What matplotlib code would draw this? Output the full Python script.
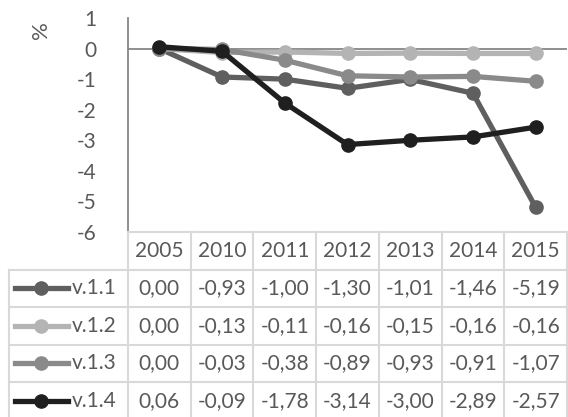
import matplotlib
matplotlib.use("Agg")
import matplotlib.pyplot as plt
from matplotlib.lines import Line2D

years = ["2005", "2010", "2011", "2012", "2013", "2014", "2015"]
names = ["v.1.1", "v.1.2", "v.1.3", "v.1.4"]
v11 = [0.00, -0.93, -1.00, -1.30, -1.01, -1.46, -5.19]
v12 = [0.00, -0.13, -0.11, -0.16, -0.15, -0.16, -0.16]
v13 = [0.00, -0.03, -0.38, -0.89, -0.93, -0.91, -1.07]
v14 = [0.06, -0.09, -1.78, -3.14, -3.00, -2.89, -2.57]
series = [v11, v12, v13, v14]
colors = ["#5f5f5f", "#b4b4b4", "#8a8a8a", "#1f1f1f"]

plt.rcParams["font.family"] = ["Lato", "DejaVu Sans"]
fs = 15
text_color = "#595959"
grid_color = "#d9d9d9"
axis_color = "#868686"
W, H = 568, 417

fig = plt.figure(figsize=(W / 100, H / 100), dpi=100)

# Plot area (pixel box converted to figure fractions).
left, right, top, bottom = 128, 567, 18, 232
ax = fig.add_axes([left / W, 1 - bottom / H, (right - left) / W, (bottom - top) / H])
x = list(range(len(years)))
for vals, c in zip(series, colors):
    ax.plot(x, vals, "-o", color=c, lw=3.8, ms=9.5, solid_capstyle="round", clip_on=False)

ax.set_xlim(-0.5, len(years) - 0.5)
ax.set_ylim(-6, 1)
ax.set_yticks(range(-6, 2))
ax.set_yticklabels([str(v) for v in range(-6, 2)])
ax.tick_params(axis="y", length=0, labelsize=fs, labelcolor=text_color, pad=23)
ax.set_xticks([])
for s in ["top", "right", "bottom"]:
    ax.spines[s].set_visible(False)
ax.spines["left"].set_color(axis_color)
ax.spines["left"].set_linewidth(1.3)
ax.axhline(0, color=axis_color, lw=1.3, zorder=0)
fig.text(41 / W, 1 - 30 / H, "%", rotation=90, fontsize=16, color=text_color,
         ha="center", va="center")

# Data table underneath, sharing the category positions.
row_h = 37.5
tab = fig.add_axes([left / W, 1 - 417 / H, (right - left) / W, (417 - 232) / H])
tab.set_xlim(-0.5, len(years) - 0.5)
tab.set_ylim((417 - 232) / row_h, 0)
tab.axis("off")
col_w = 63.0
leg_left = -0.5 - (left - 8) / col_w
n_rows = len(names) + 1
kw = dict(color=grid_color, lw=1.5, clip_on=False)
# horizontal lines
tab.plot([-0.5, len(years) - 0.5], [0, 0], **kw)
for r in range(1, n_rows):
    tab.plot([leg_left, len(years) - 0.5], [r, r], **kw)
# vertical lines
for cx in [i - 0.5 for i in range(len(years) + 1)]:
    tab.plot([cx, cx], [0, n_rows], **kw)
tab.plot([leg_left, leg_left], [1, n_rows], **kw)

for i, y in enumerate(years):
    tab.text(i, 0.5, y, ha="center", va="center", fontsize=fs, color=text_color)
for r, (name, vals, c) in enumerate(zip(names, series, colors), start=1):
    for i, v in enumerate(vals):
        tab.text(i, r + 0.5, f"{v:.2f}".replace(".", ","), ha="center", va="center",
                 fontsize=fs, color=text_color)
    lx0 = leg_left + 6 / col_w
    lx1 = leg_left + 60 / col_w
    tab.add_line(Line2D([lx0, lx1], [r + 0.5, r + 0.5], color=c, lw=3.8, clip_on=False))
    tab.plot([(lx0 + lx1) / 2], [r + 0.5], "o", color=c, ms=9.5, clip_on=False)
    tab.text(leg_left + 64 / col_w, r + 0.5, name, ha="left", va="center",
             fontsize=fs, color=text_color)

fig.savefig("out.png", dpi=100)
